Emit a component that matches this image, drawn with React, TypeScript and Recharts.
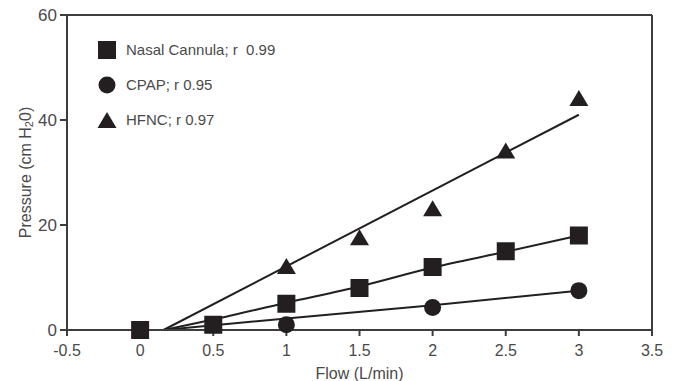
import React from "react";
import { ComposedChart, Line, Scatter, XAxis, YAxis, ReferenceLine } from "recharts";

const flowTicks = [-0.5, 0, 0.5, 1, 1.5, 2, 2.5, 3, 3.5];
const pressureTicks = [0, 20, 40, 60];

const nasalFlow = [0, 0.5, 1, 1.5, 2, 2.5, 3];
const nasalValues = [0, 1, 5, 8, 12, 15, 18];
const cpapFlow = [1, 2, 3];
const cpapValues = [1, 4.3, 7.5];
const hfncFlow = [1, 1.5, 2, 2.5, 3];
const hfncValues = [12, 17.5, 23, 34, 44];

const nasalFitFlow = [0.16, 0.5, 1, 1.5, 2, 2.5, 3];
const nasalFitValues = [0, 2, 5.2, 8.3, 11.9, 14.9, 18];
const cpapFitFlow = [0.16, 1, 2, 3];
const cpapFitValues = [0, 2.2, 4.7, 7.5];
const hfncFitFlow = [0.16, 3];
const hfncFitValues = [0, 41];

const legendLabels = ["Nasal Cannula; r  0.99", "CPAP; r 0.95", "HFNC; r 0.97"];

const zip = (xs: number[], ys: number[]) => xs.map((x, i) => ({ x, y: ys[i] }));

const nasalData = zip(nasalFlow, nasalValues);
const cpapData = zip(cpapFlow, cpapValues);
const hfncData = zip(hfncFlow, hfncValues);
const nasalFit = zip(nasalFitFlow, nasalFitValues);
const cpapFit = zip(cpapFitFlow, cpapFitValues);
const hfncFit = zip(hfncFitFlow, hfncFitValues);

const INK = "#231f20";
const AXIS = "#3d3d3d";
const TEXT = "#4a4a4a";
const FONT = "'Liberation Sans', Arial, Helvetica, sans-serif";

const Square = (p: any) => <rect x={p.cx - 9} y={p.cy - 9} width={18} height={18} fill={INK} />;
const Circle = (p: any) => <circle cx={p.cx} cy={p.cy} r={8.5} fill={INK} />;
const Triangle = (p: any) => (
  <polygon points={`${p.cx},${p.cy - 9} ${p.cx + 9.5},${p.cy + 7} ${p.cx - 9.5},${p.cy + 7}`} fill={INK} />
);

const legendSymbols = [
  <rect key="s" x={1} y={1} width={18} height={18} fill={INK} />,
  <circle key="c" cx={10} cy={10} r={8.5} fill={INK} />,
  <polygon key="t" points="10,2 19.5,18 0.5,18" fill={INK} />,
];

const LegendBox = () => (
  <div style={{ position: "absolute", left: 97, top: 32, fontFamily: FONT, fontSize: 15, color: TEXT }}>
    {legendLabels.map((l, i) => (
      <div key={l} style={{ display: "flex", alignItems: "center", height: 35, whiteSpace: "pre" }}>
        <svg width={20} height={20} style={{ marginRight: 9 }}>
          {legendSymbols[i]}
        </svg>
        <span>{l}</span>
      </div>
    ))}
  </div>
);

const YLabel = (props: any) => {
  const vb = props.viewBox || {};
  const cx = 25;
  const cy = vb.y + vb.height / 2;
  return (
    <text
      x={cx}
      y={cy}
      transform={`rotate(-90 ${cx} ${cy})`}
      textAnchor="middle"
      dominantBaseline="central"
      fill={TEXT}
      fontSize={16}
      fontFamily={FONT}
    >
      Pressure (cm H
      <tspan fontSize={11} dy={4}>2</tspan>
      <tspan dy={-4}>0)</tspan>
    </text>
  );
};

export default function App() {
  return (
    <div style={{ position: "absolute", left: 0, top: 0, width: 676, height: 381 }}>
      <ComposedChart width={676} height={381} margin={{ top: 15, right: 24, bottom: 0, left: 0 }}>
        <XAxis
          type="number"
          dataKey="x"
          domain={[-0.5, 3.5]}
          ticks={flowTicks}
          interval={0}
          allowDataOverflow
          stroke={AXIS}
          strokeWidth={2}
          tickSize={6}
          tickMargin={9}
          height={51}
          tick={{ fill: TEXT, fontSize: 16, fontFamily: FONT }}
          label={{ value: "Flow (L/min)", position: "insideBottom", offset: 2, fill: TEXT, fontSize: 16, fontFamily: FONT }}
        />
        <YAxis
          type="number"
          dataKey="y"
          domain={[0, 60]}
          ticks={pressureTicks}
          interval={0}
          stroke={AXIS}
          strokeWidth={2}
          tickSize={7}
          tickMargin={3}
          width={67}
          tick={{ fill: TEXT, fontSize: 17, fontFamily: FONT }}
          label={<YLabel />}
        />
        <ReferenceLine y={60} stroke={AXIS} strokeWidth={2} />
        <ReferenceLine x={3.5} stroke={AXIS} strokeWidth={2} />
        <Line data={hfncFit} dataKey="y" type="linear" stroke={INK} strokeWidth={2} dot={false} isAnimationActive={false} legendType="none" />
        <Line data={nasalFit} dataKey="y" type="monotone" stroke={INK} strokeWidth={2} dot={false} isAnimationActive={false} legendType="none" />
        <Line data={cpapFit} dataKey="y" type="monotone" stroke={INK} strokeWidth={2} dot={false} isAnimationActive={false} legendType="none" />
        <Scatter data={nasalData} dataKey="y" shape={Square} isAnimationActive={false} />
        <Scatter data={cpapData} dataKey="y" shape={Circle} isAnimationActive={false} />
        <Scatter data={hfncData} dataKey="y" shape={Triangle} isAnimationActive={false} />
      </ComposedChart>
      <LegendBox />
    </div>
  );
}
